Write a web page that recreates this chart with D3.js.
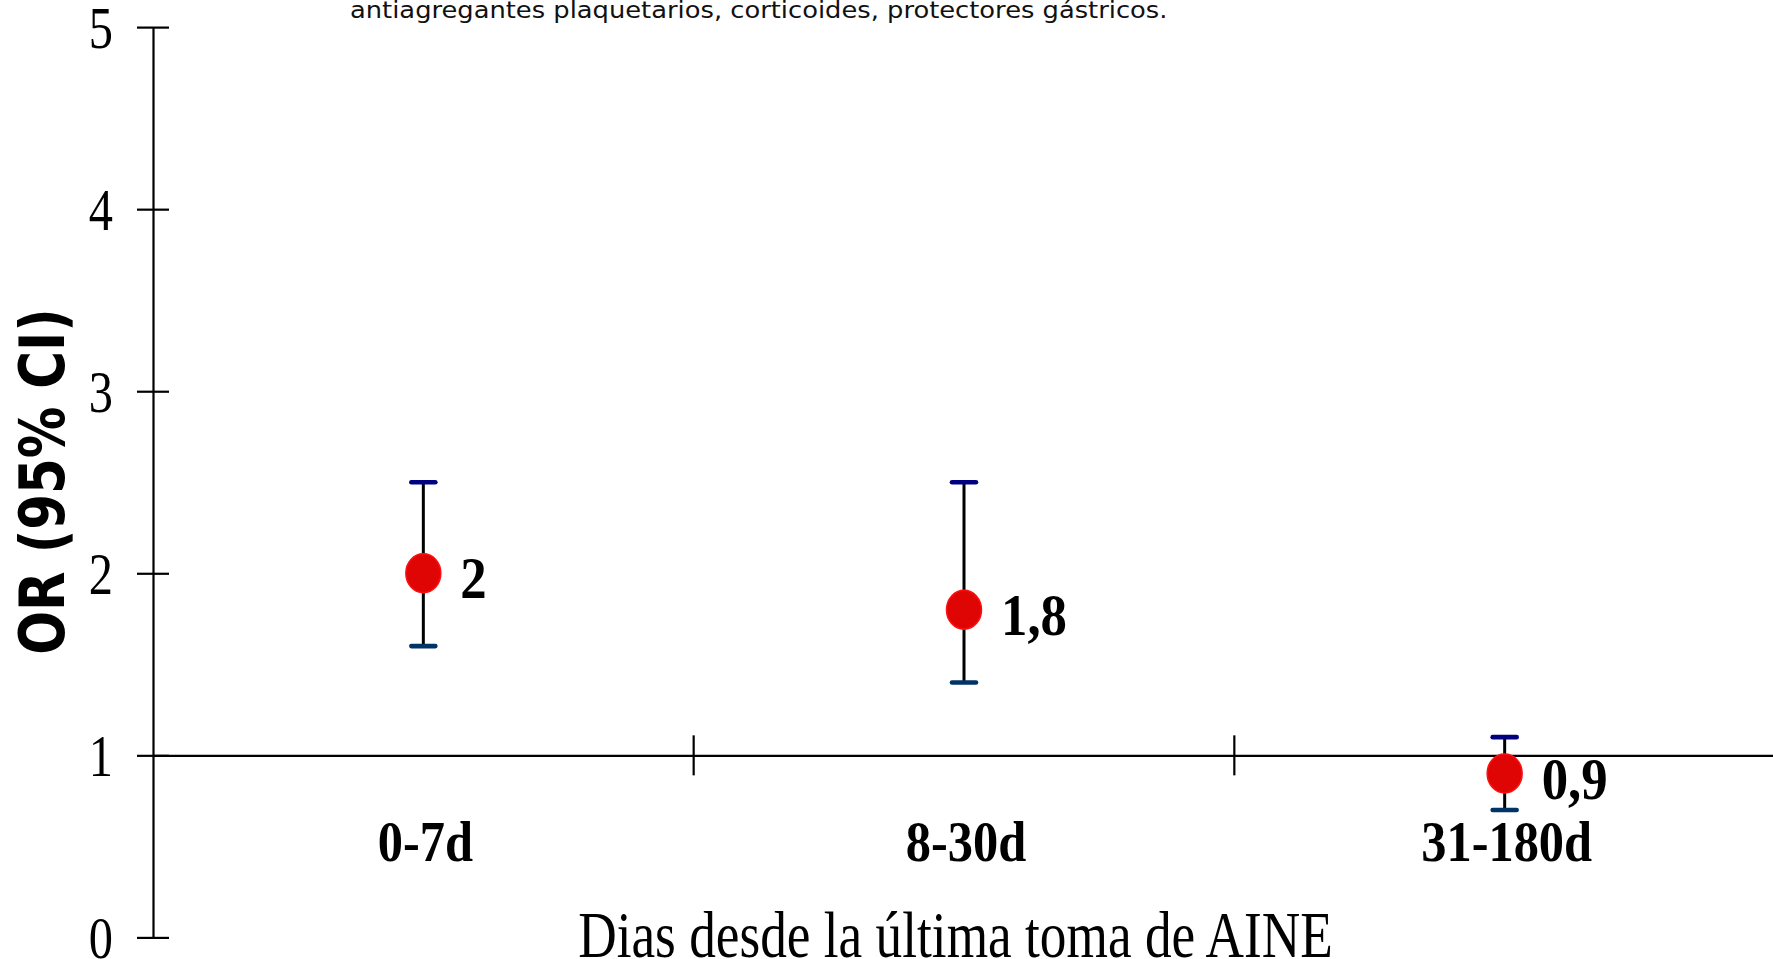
<!DOCTYPE html>
<html>
<head>
<meta charset="utf-8">
<script src="https://cdn.jsdelivr.net/npm/d3@7"></script>
<style>
  html, body { margin: 0; padding: 0; background: #ffffff; }
  svg { display: block; }
</style>
</head>
<body>
<svg id="chart" width="1773" height="959"></svg>
<script>
// Odds ratio of the outcome by time since the last NSAID dose
const categories = ["0-7d", "8-30d", "31-180d"];
const oddsRatio = [2, 1.8, 0.9];
const ciLower = [1.6, 1.4, 0.7];
const ciUpper = [2.5, 2.5, 1.1];
const valueLabels = ["2", "1,8", "0,9"];
const yTicks = [0, 1, 2, 3, 4, 5];
const yTickLabels = ["0", "1", "2", "3", "4", "5"];
const yTitle = "OR (95% CI)";
const xTitle = "Dias desde la última toma de AINE";
const noteLine = "antiagregantes plaquetarios, corticoides, protectores gástricos.";
const referenceOR = 1;

const svg = d3.select("#chart");
const serif = "'Liberation Serif', 'Times New Roman', Times, serif";
const sans = "'DejaVu Sans', Verdana, sans-serif";

const y = d3.scaleLinear().domain([0, 5]).range([937.4, 27.1]);
const x = d3.scaleBand().domain(categories).range([153, 1775]);
const rows = categories.map((c, i) => ({
  cat: c, or: oddsRatio[i], lo: ciLower[i], hi: ciUpper[i], label: valueLabels[i]
}));

// Note line above the plot (upper part of the figure is cropped)
const note = svg.append("g").attr("transform", "translate(351,18)");
const noteText = note.append("text")
  .attr("font-family", sans).attr("font-size", 23).attr("fill", "#111")
  .text(noteLine);
const noteLen = noteText.node().getComputedTextLength();
note.attr("transform", `translate(350,18) scale(${818 / noteLen},1)`);

// Y axis with crossing ticks
const yAxis = svg.append("g")
  .attr("transform", `translate(${x.range()[0]},0)`)
  .call(d3.axisLeft(y).tickValues(yTicks).tickSize(16).tickSizeOuter(0)
    .tickFormat((d, i) => yTickLabels[i]));
yAxis.select(".domain").attr("stroke", "#000").attr("stroke-width", 2.2);
yAxis.selectAll(".tick line").attr("x1", -16).attr("x2", 16)
  .attr("stroke", "#000").attr("stroke-width", 2.2);
yAxis.selectAll(".tick text")
  .attr("x", 0).attr("dy", "0.34em")
  .attr("transform", "translate(-40,0) scale(0.82,1)")
  .attr("text-anchor", "end")
  .attr("font-family", serif).attr("font-size", 59).attr("fill", "#000");

// Category axis drawn along OR = 1
const xAxis = svg.append("g")
  .attr("transform", `translate(0,${y(referenceOR)})`)
  .call(d3.axisBottom(x).tickSize(0).tickSizeOuter(0).tickFormat(""));
xAxis.select(".domain").attr("stroke", "#000").attr("stroke-width", 2.2);
xAxis.selectAll(".tick").remove();
const bounds = d3.range(1, categories.length).map(i => x.range()[0] + i * x.step());
xAxis.selectAll("line.sep").data(bounds).join("line")
  .attr("class", "sep")
  .attr("x1", d => d).attr("x2", d => d)
  .attr("y1", -20).attr("y2", 20)
  .attr("stroke", "#000").attr("stroke-width", 2.2);

// Category labels
svg.append("g").selectAll("g.cat").data(categories).join("g")
  .attr("class", "cat")
  .attr("transform", d => `translate(${x(d) + x.bandwidth() / 2 + 2},${y(referenceOR) + 105.7}) scale(0.9,1)`)
  .append("text")
  .attr("text-anchor", "middle")
  .attr("font-family", serif).attr("font-weight", "bold").attr("font-size", 56)
  .attr("fill", "#000")
  .text(d => d);

// Confidence intervals and point estimates
const marks = svg.append("g").selectAll("g.row").data(rows).join("g")
  .attr("class", "row")
  .attr("transform", d => `translate(${x(d.cat) + x.bandwidth() / 2},0)`);

marks.append("line")
  .attr("x1", 0).attr("x2", 0)
  .attr("y1", d => y(d.hi)).attr("y2", d => y(d.lo))
  .attr("stroke", "#000").attr("stroke-width", 3);

marks.append("line")
  .attr("x1", -12).attr("x2", 12)
  .attr("y1", d => y(d.hi)).attr("y2", d => y(d.hi))
  .attr("stroke", "#000080").attr("stroke-width", 4.6).attr("stroke-linecap", "round");

marks.append("line")
  .attr("x1", -12).attr("x2", 12)
  .attr("y1", d => y(d.lo)).attr("y2", d => y(d.lo))
  .attr("stroke", "#003366").attr("stroke-width", 4.6).attr("stroke-linecap", "round");

marks.append("ellipse")
  .attr("cx", 0).attr("cy", d => y(d.or))
  .attr("rx", 17.5).attr("ry", 19.5)
  .attr("fill", "#e00505").attr("stroke", "#ff1010").attr("stroke-width", 1.5);

marks.append("g")
  .attr("transform", d => `translate(37,${y(d.or) + 25}) scale(0.88,1)`)
  .append("text")
  .attr("font-family", serif).attr("font-weight", "bold").attr("font-size", 60)
  .attr("fill", "#000")
  .text(d => d.label);

// Axis titles
svg.append("g")
  .attr("transform", "translate(64,481.5) rotate(-90) scale(0.83,1)")
  .append("text")
  .attr("text-anchor", "middle")
  .attr("font-family", sans).attr("font-weight", "bold").attr("font-size", 62)
  .attr("fill", "#000")
  .text(yTitle);

svg.append("g")
  .attr("transform", "translate(955.5,957) scale(0.82,1)")
  .append("text")
  .attr("text-anchor", "middle")
  .attr("font-family", serif).attr("font-size", 65)
  .attr("fill", "#000")
  .text(xTitle);
</script>
</body>
</html>
